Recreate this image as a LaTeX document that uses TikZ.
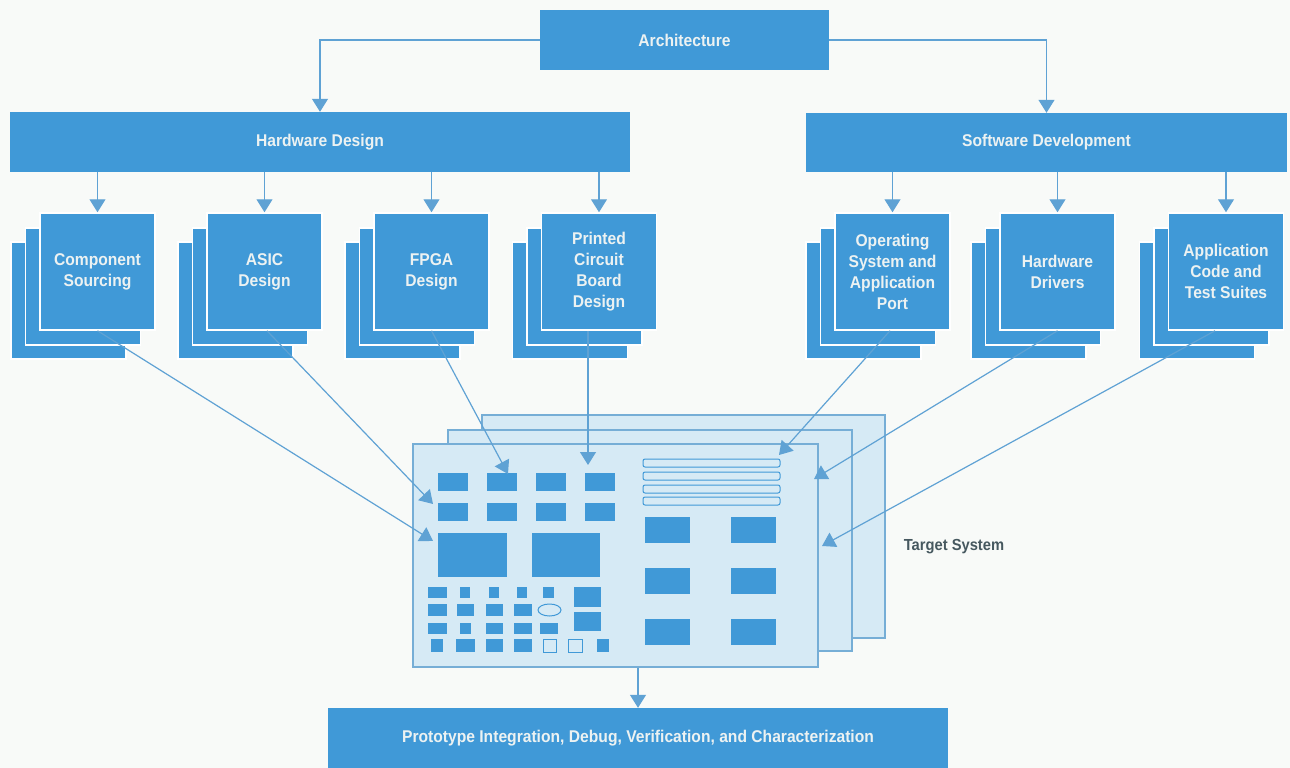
\documentclass[tikz,border=0pt]{standalone}
\usepackage{fontspec}
\setmainfont{Liberation Sans}[FakeStretch=0.92]
\usetikzlibrary{arrows.meta}

\definecolor{boxblue}{RGB}{64,153,215}
\definecolor{lineblue}{RGB}{95,162,212}
\definecolor{boardfill}{RGB}{214,234,245}
\definecolor{boardline}{RGB}{118,174,214}
\definecolor{textlight}{RGB}{236,242,242}
\definecolor{labelgray}{RGB}{70,88,95}
\definecolor{paper}{RGB}{248,250,248}

\newcommand*{\cardW}{115}
\newcommand*{\cardH}{117}

\tikzset{
  blockbox/.style={fill=boxblue, text=textlight, inner sep=0pt, align=center,
    font=\bfseries\fontsize{17}{21}\selectfont},
  cardbox/.style={blockbox, draw=white, line width=1.5pt,
    minimum width=\cardW pt, minimum height=\cardH pt},
  layerbox/.style={fill=boxblue, draw=white, line width=1.5pt},
  link/.style={draw=lineblue, line width=1.2pt, -{Triangle[width=16pt,length=13pt]}},
  board/.style={fill=boardfill, draw=boardline, line width=1.3pt},
  chip/.style={fill=boxblue},
  slot/.style={draw=boxblue, fill=boardfill, line width=1pt},
}

\begin{document}
\begin{tikzpicture}[x=1pt,y=-1pt]
    \useasboundingbox (0,0) rectangle (1290,768);
    \fill[paper] (0,0) rectangle (1290,768);

%   \foreach \i in {0,100,...,1200} {
%       \draw [very thin,gray] (\i,0) -- (\i,768) ;
%   }

    % top row
    \node[blockbox, minimum width=289pt, minimum height=60pt] (arch) at (684.5,40) {Architecture};
    \node[blockbox, minimum width=620pt, minimum height=60pt] (hw) at (320,142) {Hardware Design};
    \node[blockbox, minimum width=481pt, minimum height=59pt] (sw) at (1046.5,142.5) {Software Development};

    \draw[link] (arch.west) -| (hw.north);
    \draw[link] (arch.east) -| (sw.north);

    % target system boards
    \path[board] (482,415) rectangle (885,638);
    \path[board] (448,430) rectangle (852,651);
    \node[board, minimum width=405pt, minimum height=223pt] (brd) at (615.5,555.5) {};

    \foreach \j in {473,503} {
    \foreach \i in {438,487,536,585} {
        \fill[chip] (\i,\j) rectangle (\i+30,\j+18) ;
        }
    }
    \fill[chip] (438,533) rectangle (507,577);
    \fill[chip] (532,533) rectangle (600,577);

    \fill[chip] (428,587) rectangle (447,598);
    \fill[chip] (460,587) rectangle (470,598);
    \fill[chip] (489,587) rectangle (499,598);
    \fill[chip] (517,587) rectangle (527,598);
    \fill[chip] (543,587) rectangle (554,598);
    \fill[chip] (574,587) rectangle (601,607);
    \fill[chip] (574,612) rectangle (601,631);

    \fill[chip] (428,604) rectangle (447,616);
    \fill[chip] (457,604) rectangle (474,616);
    \fill[chip] (486,604) rectangle (503,616);
    \fill[chip] (514,604) rectangle (532,616);
    \draw[slot] (549.5,610) ellipse (11.5 and 6);

    \fill[chip] (428,623) rectangle (447,634);
    \fill[chip] (460,623) rectangle (471,634);
    \fill[chip] (486,623) rectangle (503,634);
    \fill[chip] (514,623) rectangle (532,634);
    \fill[chip] (540,623) rectangle (558,634);

    \fill[chip] (431,639) rectangle (443,652);
    \fill[chip] (456,639) rectangle (475,652);
    \fill[chip] (486,639) rectangle (503,652);
    \fill[chip] (514,639) rectangle (532,652);
    \draw[slot] (543,639) rectangle (556,652);
    \draw[slot] (568,639) rectangle (582,652);
    \fill[chip] (597,639) rectangle (609,652);

    \foreach \j in {459,472,485,497} {
        \draw[slot, rounded corners=2pt] (643,\j) rectangle (780,\j+8) ;
    }
    \foreach \j in {517,568,619} {
        \fill[chip] (645,\j) rectangle (690,\j+26) ;
        \fill[chip] (731,\j) rectangle (776,\j+26) ;
    }

    \coordinate (tCS) at (433,541);
    \coordinate (tASIC) at (433,504);
    \coordinate (tFPGA) at (508,474);
    \coordinate (tPCB) at (588,465);
    \coordinate (tOS) at (779,455);
    \coordinate (tHD) at (814,479);
    \coordinate (tAC) at (822,546);

    \node[font=\bfseries\fontsize{16}{19}\selectfont, text=labelgray] (tsys) at (954,547) {Target System};

    % stacked cards
    \foreach \nm/\cx/\txt/\up in {cs/97.5/{Component\\Sourcing}/hw, asic/264.5/{ASIC\\Design}/hw,
        fpga/431.5/{FPGA\\Design}/hw, pcb/599/{Printed\\Circuit\\Board\\Design}/hw,
        os/892.5/{Operating\\System and\\Application\\Port}/sw, hd/1057.5/{Hardware\\Drivers}/sw,
        ac/1226/{Application\\Code and\\Test Suites}/sw} {
        \path[layerbox] (\cx-86.5,242) rectangle (\cx+28.5,359);
        \path[layerbox] (\cx-72,228) rectangle (\cx+43,345);
        \node[cardbox] (\nm) at (\cx,271.5) {\txt};
        \draw[link] (\up.south -| \nm.north) -- (\nm.north);
    }

    % into the board
    \draw[link] (cs.south) -- (tCS);
    \draw[link] ([xshift=2.5pt]asic.south) -- (tASIC);
    \draw[link] (fpga.south) -- (tFPGA);
    \draw[link] (pcb.south -| tPCB) -- (tPCB);
    \draw[link] ([xshift=-2.5pt]os.south) -- (tOS);
    \draw[link] (hd.south) -- (tHD);
    \draw[link] ([xshift=-11pt]ac.south) -- (tAC);

    % bottom
    \node[blockbox, minimum width=620pt, minimum height=60pt] (proto) at (638,738)
        {Prototype Integration, Debug, Verification, and Characterization};
    \draw[link] (proto.north |- brd.south) -- (proto.north);

\end{tikzpicture}
\end{document}
